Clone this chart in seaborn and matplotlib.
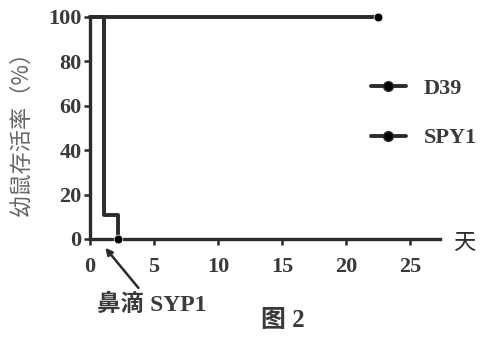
import pandas as pd
import matplotlib.pyplot as plt
import seaborn as sns
from matplotlib.lines import Line2D

# 数据：生存曲线（天, 存活率%）
d39_days = [0, 22.5]
d39_surv = [100, 100]
spy1_days = [0, 1.1, 2.2]
spy1_surv = [100, 11, 0]
groups = ['D39', 'SPY1']
x_ticks = [0, 5, 10, 15, 20, 25]
y_ticks = [0, 20, 40, 60, 80, 100]

df = pd.concat([
    pd.DataFrame({'day': d39_days, 'surv': d39_surv, 'group': groups[0]}),
    pd.DataFrame({'day': spy1_days, 'surv': spy1_surv, 'group': groups[1]}),
])

sns.set_style('ticks')
plt.rcParams['font.family'] = ['Liberation Serif', 'Noto Sans CJK SC']
cjk = ['Noto Sans CJK SC']
ink = '#2b2b2b'

fig = plt.figure(figsize=(4.86, 3.37), dpi=100)
ax = fig.add_axes([0.185, 0.291, 0.72, 0.659])

sns.lineplot(data=df, x='day', y='surv', hue='group', palette=[ink, ink],
             drawstyle='steps-post', linewidth=2.8, legend=False,
             ax=ax, clip_on=False)
# 末端标记点
ends = df.groupby('group').tail(1)
sns.scatterplot(data=ends, x='day', y='surv', color='black', s=40,
                legend=False, ax=ax, clip_on=False, zorder=5)

ax.set_xlim(0, 27.3)
ax.set_ylim(0, 100)
ax.set_xticks(x_ticks)
ax.set_yticks(y_ticks)
ax.set_xlabel('')
ax.set_ylabel('幼鼠存活率（%）', family=cjk, fontsize=16, color='#666666')
ax.yaxis.set_label_coords(-0.163, 0.5)
ax.tick_params(labelsize=16, width=1.8, length=4, colors=ink)
ax.tick_params(axis='x', pad=9)
ax.tick_params(axis='y', pad=2)
for lab in ax.get_xticklabels() + ax.get_yticklabels():
    lab.set_fontweight('bold')
    lab.set_color('#3a3a3a')
for s in ['left', 'bottom']:
    ax.spines[s].set_linewidth(2.4)
    ax.spines[s].set_color(ink)
sns.despine(ax=ax)

# 图例
handles = [Line2D([], [], color=ink, lw=2.8, marker='o', ms=7, mfc='black') for _ in groups]
leg = ax.legend(handles, groups, loc='center left', bbox_to_anchor=(0.745, 0.565),
                frameon=False, prop={'size': 16, 'weight': 'bold'},
                handlelength=1.6, handletextpad=0.8, labelspacing=1.3)
for t in leg.get_texts():
    t.set_color('#3a3a3a')

# 注释
ax.annotate('鼻滴 SYP1', xy=(1.2, -4), xytext=(4.85, -29.5),
            textcoords='data', fontsize=17, fontweight='bold', ha='center', va='center',
            color='#3a3a3a', annotation_clip=False,
            arrowprops=dict(arrowstyle='-|>', color=ink, lw=1.8, shrinkA=2, shrinkB=0,
                            mutation_scale=10))
fig.text(0.955, 0.28, '天', family=cjk, fontsize=16, ha='center', va='center', color=ink)
fig.text(0.583, 0.05, '图 2', fontsize=18, fontweight='bold', ha='center', va='center',
         color='#3a3a3a')

fig.savefig('out.png', dpi=100)
